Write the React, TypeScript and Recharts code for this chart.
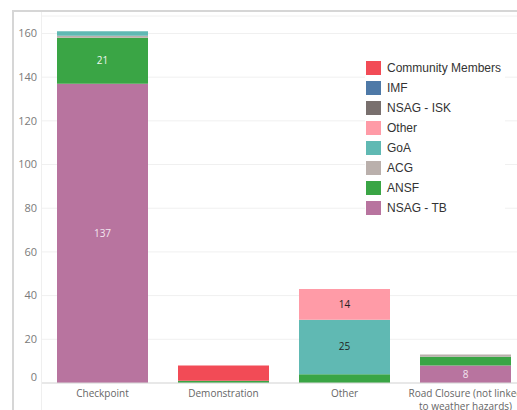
import React from 'react';
import { BarChart, Bar, XAxis, YAxis, CartesianGrid, Legend, LabelList } from 'recharts';

const categories = ['Checkpoint', 'Demonstration', 'Other', 'Road Closure (not linked to weather hazards)'];

// stacked from the bottom up
const nsagTb = [137, 0, 0, 8];
const ansf = [21, 1, 4, 4];
const acg = [1, 0, 0, 1];
const goa = [2, 0, 25, 0];
const otherActor = [0, 0, 14, 0];
const nsagIsk = [0, 0, 0, 0];
const imf = [0, 0, 0, 0];
const communityMembers = [0, 7, 0, 0];

const yTicks = [0, 20, 40, 60, 80, 100, 120, 140, 160];

const SERIES = [
  { key: 'nsagTb', name: 'NSAG - TB', values: nsagTb, color: '#b8749f', label: '#f3e6ef' },
  { key: 'ansf', name: 'ANSF', values: ansf, color: '#3aa545', label: '#eef7ee' },
  { key: 'acg', name: 'ACG', values: acg, color: '#bab0ac', label: '#333' },
  { key: 'goa', name: 'GoA', values: goa, color: '#60b9b3', label: '#222' },
  { key: 'other', name: 'Other', values: otherActor, color: '#ff9ba7', label: '#222' },
  { key: 'nsagIsk', name: 'NSAG - ISK', values: nsagIsk, color: '#79706e', label: '#fff' },
  { key: 'imf', name: 'IMF', values: imf, color: '#4e79a7', label: '#fff' },
  { key: 'community', name: 'Community Members', values: communityMembers, color: '#f24b56', label: '#fff' },
];

const data = categories.map((name, i) => {
  const row: { [k: string]: string | number } = { name };
  SERIES.forEach(s => { row[s.key] = s.values[i]; });
  return row;
});

const AXIS_FONT = '"Open Sans", "DejaVu Sans", sans-serif';

const YTick = (props: any) => {
  const { x, y, payload } = props;
  const shift = payload.value === 0 ? -6 : 0;
  return (
    <text x={x} y={y + shift} dy="0.35em" textAnchor="end" fill="#7a7a7a" fontSize={11} fontFamily={AXIS_FONT}>
      {payload.value}
    </text>
  );
};

const wrap = (label: string, max: number) => {
  const lines: string[] = [];
  let cur = '';
  label.split(' ').forEach(w => {
    const next = cur ? cur + ' ' + w : w;
    if (next.length > max && cur) {
      lines.push(cur);
      cur = w;
    } else {
      cur = next;
    }
  });
  if (cur) lines.push(cur);
  return lines;
};

const XTick = (props: any) => {
  const { x, y, payload } = props;
  const lines = wrap(payload.value, 24);
  return (
    <text x={x} y={y} textAnchor="middle" fill="#666" fontSize={10} fontFamily={AXIS_FONT}>
      {lines.map((l, i) => (
        <tspan key={i} x={x} dy={i === 0 ? '0.71em' : 13}>{l}</tspan>
      ))}
    </text>
  );
};

const makeLabel = (color: string) => (props: any) => {
  const { x, y, width, height, value } = props;
  if (!value || height < 16) return null;
  return (
    <text x={x + width / 2} y={y + height / 2} dy="0.35em" textAnchor="middle" fill={color} fontSize={10} fontFamily={AXIS_FONT}>
      {value}
    </text>
  );
};

const LegendBox = () => (
  <div style={{ background: '#fff', padding: '8px 0 8px 1px', fontFamily: '"Liberation Sans", Arial, sans-serif' }}>
    {[...SERIES].reverse().map(s => (
      <div key={s.key} style={{ display: 'flex', alignItems: 'center', height: 20 }}>
        <span style={{ width: 15, height: 14, background: s.color, display: 'inline-block', marginRight: 6 }} />
        <span style={{ fontSize: 12, color: '#333' }}>{s.name}</span>
      </div>
    ))}
  </div>
);

const App: React.FC = () => {
  return (
    <div style={{ position: 'absolute', left: 0, top: 0, width: 517, height: 410, overflow: 'hidden', background: '#fff' }}>
      <div style={{ position: 'absolute', left: 12, top: 10, width: 520, height: 410, borderLeft: '2px solid #d6d6d6', borderTop: '2px solid #d6d6d6' }} />
      <div style={{ position: 'absolute', left: 41, top: 12, width: 1, height: 400, background: '#efefef' }} />
      <div style={{ position: 'absolute', left: 0, top: 0 }}>
        <BarChart width={540} height={410} data={data} margin={{ top: 16, right: 14, bottom: 0, left: 12 }} barSize={91}>
          <CartesianGrid vertical={false} stroke="#f0f0f0" />
          <XAxis
            dataKey="name"
            height={27}
            interval={0}
            tickLine={false}
            tickSize={0}
            tickMargin={7}
            axisLine={{ stroke: '#d9d9d9' }}
            tick={<XTick />}
          />
          <YAxis
            width={30}
            domain={[0, 168]}
            ticks={yTicks}
            axisLine={false}
            tickLine={false}
            tickSize={0}
            tickMargin={5}
            tick={<YTick />}
          />
          <Legend
            layout="horizontal"
            verticalAlign="middle"
            content={<LegendBox />}
            wrapperStyle={{ position: 'absolute', left: 365, top: 50, width: 140 }}
          />
          {SERIES.map(s => (
            <Bar key={s.key} dataKey={s.key} name={s.name} stackId="a" fill={s.color} isAnimationActive={false}>
              <LabelList dataKey={s.key} content={makeLabel(s.label)} />
            </Bar>
          ))}
        </BarChart>
      </div>
    </div>
  );
};

export default App;
